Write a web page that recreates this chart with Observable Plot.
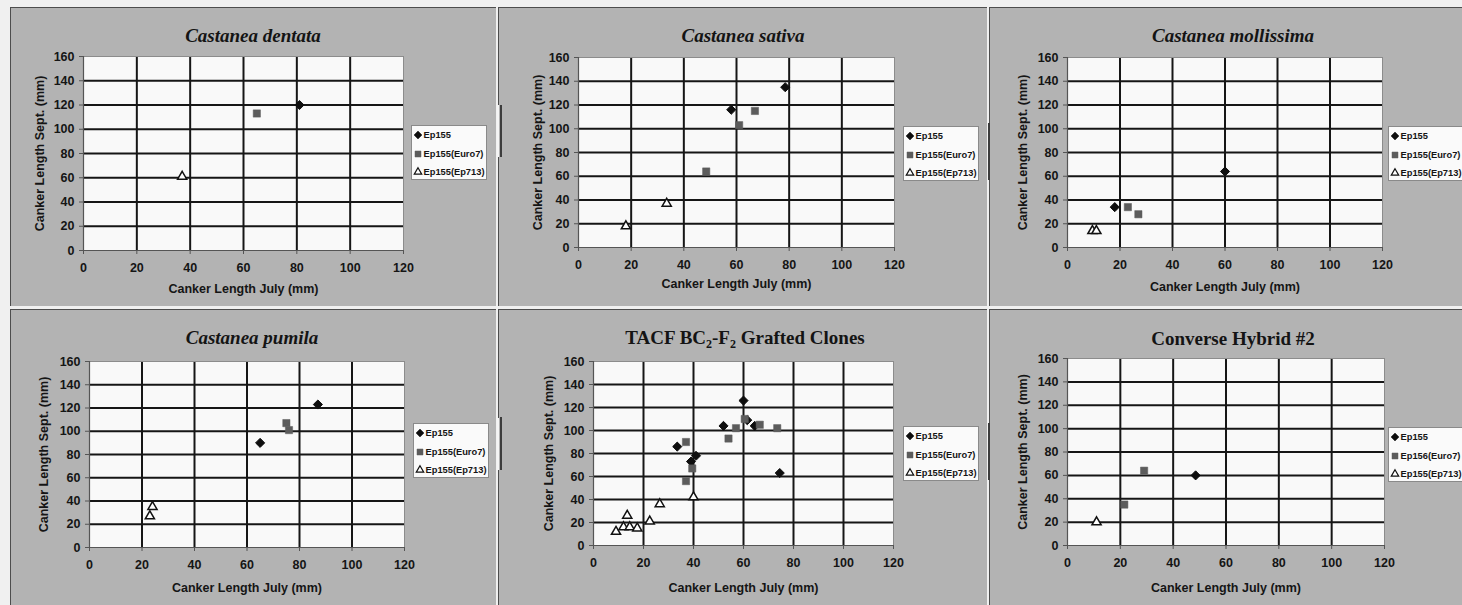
<!DOCTYPE html>
<html>
<head>
<meta charset="utf-8">
<script src="https://cdn.jsdelivr.net/npm/d3@7"></script>
<script src="https://cdn.jsdelivr.net/npm/@observablehq/plot@0.6"></script>
<style>
  html, body { margin: 0; padding: 0; width: 1462px; height: 605px; overflow: hidden; background: #f0f0f0; }
  #board { position: relative; width: 1462px; height: 605px; overflow: hidden; }
  .panel { position: absolute; background: #b3b3b3; box-sizing: border-box;
           border-left: 1px solid #4d4d4d; border-top: 1px solid #4d4d4d; }
  .edge { position: absolute; width: 2px; }
  .chart { position: absolute; }
  .chart svg { overflow: visible; }
  .title { position: absolute; font-family: "Liberation Serif", "Times New Roman", serif; font-weight: bold;
           font-size: 19px; line-height: 19px; color: #141414; white-space: nowrap; transform: translateX(-50%); }
  .title.it { font-style: italic; }
  .title sub { font-size: 12px; vertical-align: -4px; line-height: 0; }
  .legend { position: absolute; height: 55px; box-sizing: border-box; background: #fafafa;
            border: 1px solid #8a8a8a; font-family: "Liberation Sans", Arial, sans-serif; font-weight: bold;
            font-size: 9.3px; color: #151515; white-space: nowrap; }
  .legend .row { position: absolute; left: 2px; height: 12px; line-height: 12px; display: flex; align-items: center; }
  .legend svg { width: 8px; height: 8px; margin-right: 1.5px; overflow: visible; }
</style>
</head>
<body>
<div id="board"></div>
<script>
// Axis ticks shared by every panel
const xTicks = [0, 20, 40, 60, 80, 100, 120];
const yTicks = [0, 20, 40, 60, 80, 100, 120, 140, 160];
const xLabel = "Canker Length July (mm)";
const yLabel = "Canker Length Sept. (mm)";

// Panel titles
const titles = [
  "Castanea dentata",
  "Castanea sativa",
  "Castanea mollissima",
  "Castanea pumila",
  "TACF BC<sub>2</sub>-F<sub>2</sub> Grafted Clones",
  "Converse Hybrid #2"
];
const italicTitles = [true, true, true, true, false, false];

// Legend entries
const seriesNames = ["Ep155", "Ep155(Euro7)", "Ep155(Ep713)"];
const seriesNamesHybrid = ["Ep155", "Ep156(Euro7)", "Ep155(Ep713)"];

// Canker lengths [July, September] in mm
const dentataEp155 = [[81, 120]];
const dentataEuro7 = [[65, 113]];
const dentataEp713 = [[37, 61]];

const sativaEp155 = [[58, 116], [78.5, 135]];
const sativaEuro7 = [[48.5, 64], [61, 103], [67, 115]];
const sativaEp713 = [[18, 18], [33.5, 37]];

const mollissimaEp155 = [[18, 34], [60, 64]];
const mollissimaEuro7 = [[23, 34], [27, 28]];
const mollissimaEp713 = [[9.5, 14], [11, 14]];

const pumilaEp155 = [[65, 90], [87, 123]];
const pumilaEuro7 = [[75, 107], [76, 101]];
const pumilaEp713 = [[23, 27], [24, 35]];

const tacfEp155 = [[33.5, 86], [39, 73], [41, 78], [52, 104], [60, 126], [61.5, 109], [64.5, 104], [74.5, 63]];
const tacfEuro7 = [[37, 90], [37, 56], [39.5, 67], [54, 93], [57, 102], [60.5, 110], [66.5, 105], [73.5, 102]];
const tacfEp713 = [[9, 12], [12, 16], [13.5, 26], [14.5, 16], [17.5, 15], [22.5, 21], [26.5, 36], [40, 42]];

const hybridEp155 = [[48.5, 60]];
const hybridEuro7 = [[21.5, 35], [29, 64]];
const hybridEp713 = [[11, 20]];

const panelSeries = [
  [dentataEp155, dentataEuro7, dentataEp713],
  [sativaEp155, sativaEuro7, sativaEp713],
  [mollissimaEp155, mollissimaEuro7, mollissimaEp713],
  [pumilaEp155, pumilaEuro7, pumilaEp713],
  [tacfEp155, tacfEuro7, tacfEp713],
  [hybridEp155, hybridEuro7, hybridEp713]
];

// Page layout: panel box, plotting area, title, axis-title offsets and legend box [left, top, width]
const layout = [
  {box: [10, 7, 496, 306],   area: [83, 56, 403, 250],   title: [253, 26],  yOff: 44, xOff: 38, legend: [411, 125, 76]},
  {box: [498, 7, 987, 306],  area: [578, 57, 894, 247],  title: [743, 26],  yOff: 41, xOff: 36, legend: [903, 126, 76]},
  {box: [989, 7, 1462, 306], area: [1067, 57, 1382, 247], title: [1233, 26], yOff: 45, xOff: 39, legend: [1388, 126, 76]},
  {box: [10, 309, 496, 605],   area: [89, 361, 404, 547],   title: [252, 328],  yOff: 46, xOff: 40, legend: [413, 423, 76]},
  {box: [498, 309, 987, 605],  area: [593, 361, 893, 545],  title: [745, 328],  yOff: 45, xOff: 42, legend: [903, 426, 76]},
  {box: [989, 309, 1462, 605], area: [1067, 358, 1384, 545], title: [1233, 329], yOff: 45, xOff: 42, legend: [1388, 427, 76]}
];

// Short edge strokes along the panel seams, beside the legends
const seams = [
  {x: 497, y: 105, h: 52, c: "#f4f4f4"}, {x: 499.5, y: 105, h: 52, c: "#3c3c3c"},
  {x: 497, y: 418, h: 52, c: "#f4f4f4"}, {x: 499.5, y: 417, h: 53, c: "#3c3c3c"},
  {x: 988, y: 123, h: 57, c: "#3c3c3c"}, {x: 988, y: 423, h: 57, c: "#3c3c3c"}
];

const symbolStyles = [
  {symbol: "diamond2", fill: "#0e0e0e", stroke: "#0e0e0e", r: 4.1, strokeWidth: 1},
  {symbol: "square", fill: "#5c5c5c", stroke: "#5c5c5c", r: 4.1, strokeWidth: 0.5},
  {symbol: "triangle", fill: "#ffffff", stroke: "#111111", r: 3.4, strokeWidth: 1.5}
];

const board = document.getElementById("board");

layout.forEach((L, i) => {
  const [bl, bt, br, bb] = L.box;
  const [ax0, ay0, ax1, ay1] = L.area;
  const w = br - bl, h = bb - bt;

  const panel = document.createElement("div");
  panel.className = "panel";
  Object.assign(panel.style, {left: bl + "px", top: bt + "px", width: w + "px", height: h + "px"});
  board.appendChild(panel);

  const series = panelSeries[i];
  const dots = series.map((data, k) => Plot.dot(data, {
    x: d => d[0], y: d => d[1],
    symbol: symbolStyles[k].symbol, r: symbolStyles[k].r,
    fill: symbolStyles[k].fill, stroke: symbolStyles[k].stroke, strokeWidth: symbolStyles[k].strokeWidth
  }));

  const chart = Plot.plot({
    width: w, height: h,
    marginLeft: ax0 - bl, marginRight: br - ax1, marginTop: ay0 - bt, marginBottom: bb - ay1,
    x: {domain: [0, 120]},
    y: {domain: [0, 160]},
    style: {background: "transparent", fontFamily: "'Liberation Sans', Arial, sans-serif",
            fontSize: "12.5px", fontWeight: "bold", color: "#151515", overflow: "visible"},
    marks: [
      Plot.frame({fill: "#f9f9f9", stroke: null}),
      Plot.gridX(xTicks.slice(1, -1), {stroke: "#161616", strokeOpacity: 1, strokeWidth: 2}),
      Plot.gridY(yTicks.slice(1, -1), {stroke: "#161616", strokeOpacity: 1, strokeWidth: 2}),
      Plot.frame({stroke: "#8c8c8c", strokeWidth: 1}),
      Plot.ruleX([0], {stroke: "#555555", strokeWidth: 1.2}),
      Plot.ruleY([0], {stroke: "#555555", strokeWidth: 1.2}),
      Plot.axisX(xTicks, {tickSize: 4, tickPadding: 9, stroke: "#555555", label: null}),
      Plot.axisY(yTicks, {tickSize: 4, tickPadding: 5, stroke: "#555555", label: null}),
      Plot.text([xLabel], {text: d => d, frameAnchor: "bottom", textAnchor: "middle", lineAnchor: "middle", dy: L.xOff}),
      Plot.text([yLabel], {text: d => d, frameAnchor: "left", textAnchor: "middle", lineAnchor: "middle", rotate: -90, dx: -L.yOff}),
      ...dots
    ]
  });
  const holder = document.createElement("div");
  holder.className = "chart";
  Object.assign(holder.style, {left: bl + "px", top: bt + "px"});
  holder.appendChild(chart);
  board.appendChild(holder);

  const title = document.createElement("div");
  title.className = "title" + (italicTitles[i] ? " it" : "");
  title.innerHTML = titles[i];
  Object.assign(title.style, {left: L.title[0] + "px", top: L.title[1] + "px"});
  board.appendChild(title);

  const legend = document.createElement("div");
  legend.className = "legend";
  Object.assign(legend.style, {left: L.legend[0] + "px", top: L.legend[1] + "px", width: L.legend[2] + "px"});
  const names = i === 5 ? seriesNamesHybrid : seriesNames;
  const glyphs = [
    {type: d3.symbolDiamond2, size: 40},
    {type: d3.symbolSquare, size: 36},
    {type: d3.symbolTriangle, size: 24}
  ];
  names.forEach((name, k) => {
    const row = document.createElement("div");
    row.className = "row";
    row.style.top = (3 + k * 18.5) + "px";
    const svg = d3.create("svg").attr("viewBox", "-4 -4 8 8");
    svg.append("path")
      .attr("d", d3.symbol(glyphs[k].type, glyphs[k].size)())
      .attr("fill", symbolStyles[k].fill)
      .attr("stroke", symbolStyles[k].stroke)
      .attr("stroke-width", k === 2 ? 1.2 : 0.5);
    row.appendChild(svg.node());
    const span = document.createElement("span");
    span.textContent = name;
    row.appendChild(span);
    legend.appendChild(row);
  });
  board.appendChild(legend);
});

seams.forEach(s => {
  const d = document.createElement("div");
  d.className = "edge";
  Object.assign(d.style, {left: s.x + "px", top: s.y + "px", height: s.h + "px", background: s.c});
  board.appendChild(d);
});
</script>
</body>
</html>
